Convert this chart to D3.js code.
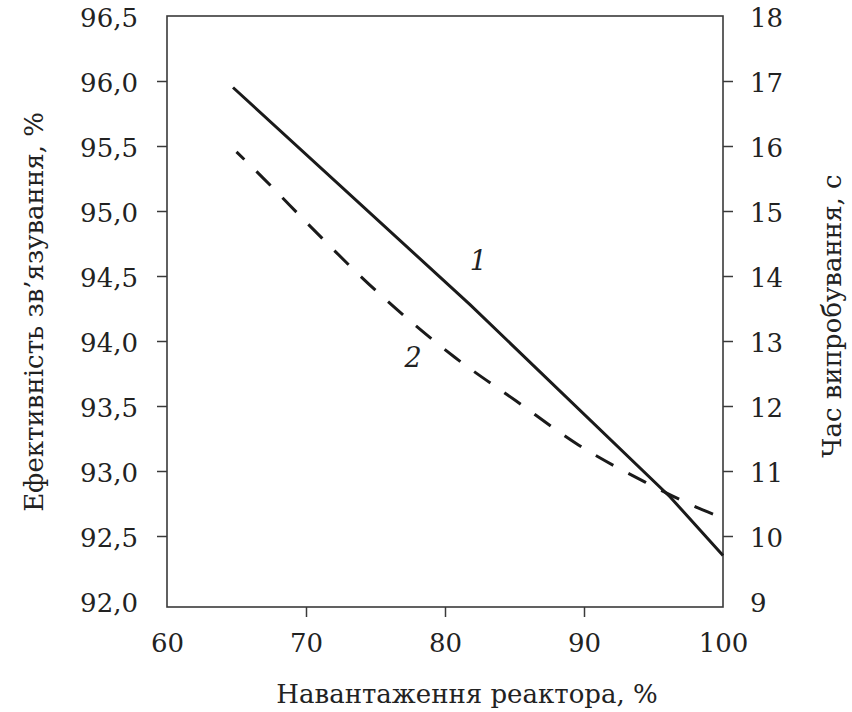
<!DOCTYPE html>
<html>
<head>
<meta charset="utf-8">
<script src="https://cdn.jsdelivr.net/npm/d3@7/dist/d3.min.js"></script>
<style>
  body { margin: 0; background: #fff; }
  svg text { font-family: "DejaVu Serif", serif; fill: #222; }
</style>
</head>
<body>
<div id="chart"></div>
<script>
// DATA
var xTicks = [60, 70, 80, 90, 100];
var leftTicks = [92, 92.5, 93, 93.5, 94, 94.5, 95, 95.5, 96, 96.5];
var rightTicks = [9, 10, 11, 12, 13, 14, 15, 16, 17, 18];

// curve 1 - efficiency (left axis), solid
var load1 = [64.75, 81.8, 96.2, 100];
var eff1 = [95.95, 94.28, 92.80, 92.35];

// curve 2 - test time (right axis), dashed
var load2 = [65.0, 66.9, 70.65, 74.5, 78.6, 80.7, 85.1, 89.6, 94.4, 98.9, 100];
var time2 = [15.91, 15.51, 14.69, 13.88, 13.11, 12.75, 12.08, 11.40, 10.83, 10.37, 10.28];

// curve number labels (x, left-axis value)
var curveLabels = ["1", "2"];
var curveLabelX = [82.4, 77.7];
var curveLabelY = [94.55, 93.8];

var xTitle = "Навантаження реактора, %";
var leftTitle = "Ефективність зв’язування, %";
var rightTitle = "Час випробування, с";

//SIZING
var width = 852, height = 712;
var frame = { left: 167, right: 723, top: 16, bottom: 607 };
var fontFamily = "'DejaVu Serif', serif";

var svg = d3.select("#chart").append("svg")
    .attr("width", width)
    .attr("height", height);

var x = d3.scaleLinear().domain([60, 100]).range([frame.left, frame.right]);
var yL = d3.scaleLinear().domain([92, 96.5]).range([601, frame.top]);
var yR = d3.scaleLinear().domain([9, 18]).range([601, frame.top]);

function comma(d) {
    return d3.format(".1f")(d).replace(".", ",");
}

var axisColor = "#3a3a3a";

// AXES
var gx = svg.append("g")
    .attr("transform", "translate(0," + frame.bottom + ")")
    .call(d3.axisBottom(x).tickValues(xTicks).tickSize(10).tickFormat(d3.format("d")));

var gl = svg.append("g")
    .attr("transform", "translate(" + frame.left + ",0)")
    .call(d3.axisLeft(yL).tickValues(leftTicks).tickSize(10).tickPadding(19).tickFormat(comma));

var gr = svg.append("g")
    .attr("transform", "translate(" + frame.right + ",0)")
    .call(d3.axisRight(yR).tickValues(rightTicks).tickSize(10).tickPadding(17).tickFormat(d3.format("d")));

[gx, gl, gr].forEach(function (g) {
    g.select(".domain").remove();
    g.selectAll(".tick line").attr("stroke", axisColor).attr("stroke-width", 1.5);
    g.selectAll(".tick text")
        .style("font-size", "26px")
        .style("font-family", fontFamily)
        .attr("fill", "#222");
});
gx.selectAll(".tick text").attr("y", 45).attr("dy", null);
gl.selectAll(".tick text").attr("dy", "0.4em");
gr.selectAll(".tick text").attr("dy", "0.4em");

// no tick marks at the corners
gx.selectAll(".tick line").filter(function (d) { return d == 60 || d == 100; }).remove();
gl.selectAll(".tick line").filter(function (d) { return d == 92 || d == 96.5; }).remove();
gr.selectAll(".tick line").filter(function (d) { return d == 9 || d == 18; }).remove();

// FRAME
svg.append("rect")
    .attr("x", frame.left)
    .attr("y", frame.top)
    .attr("width", frame.right - frame.left)
    .attr("height", frame.bottom - frame.top)
    .attr("fill", "none")
    .attr("stroke", axisColor)
    .attr("stroke-width", 1.6);

// LINES
var solidLine = d3.line()
    .x(function (d, i) { return x(load1[i]); })
    .y(function (d) { return yL(d); });

svg.append("path")
    .attr("d", solidLine(eff1))
    .attr("fill", "none")
    .attr("stroke", "#1a1a1a")
    .attr("stroke-width", 3);

var dashLine = d3.line()
    .x(function (d, i) { return x(load2[i]); })
    .y(function (d) { return yR(d); })
    .curve(d3.curveMonotoneX);

svg.append("path")
    .attr("d", dashLine(time2))
    .attr("fill", "none")
    .attr("stroke", "#1a1a1a")
    .attr("stroke-width", 3)
    .attr("stroke-dasharray", "20,17")
    .attr("stroke-dashoffset", 9);

// curve numbers
svg.selectAll(".curvelabel")
    .data(curveLabels)
    .enter()
    .append("text")
    .attr("class", "curvelabel")
    .attr("x", function (d, i) { return x(curveLabelX[i]); })
    .attr("y", function (d, i) { return yL(curveLabelY[i]); })
    .attr("text-anchor", "middle")
    .style("font-size", "27px")
    .style("font-style", "italic")
    .text(function (d) { return d; });

// TITLES
svg.append("text")
    .attr("x", 467)
    .attr("y", 703)
    .attr("text-anchor", "middle")
    .style("font-size", "26px")
    .text(xTitle);

svg.append("text")
    .attr("transform", "translate(43," + 312 + ") rotate(-90)")
    .attr("text-anchor", "middle")
    .style("font-size", "26px")
    .text(leftTitle);

svg.append("text")
    .attr("transform", "translate(841," + 316 + ") rotate(-90)")
    .attr("text-anchor", "middle")
    .style("font-size", "26px")
    .text(rightTitle);
</script>
</body>
</html>
